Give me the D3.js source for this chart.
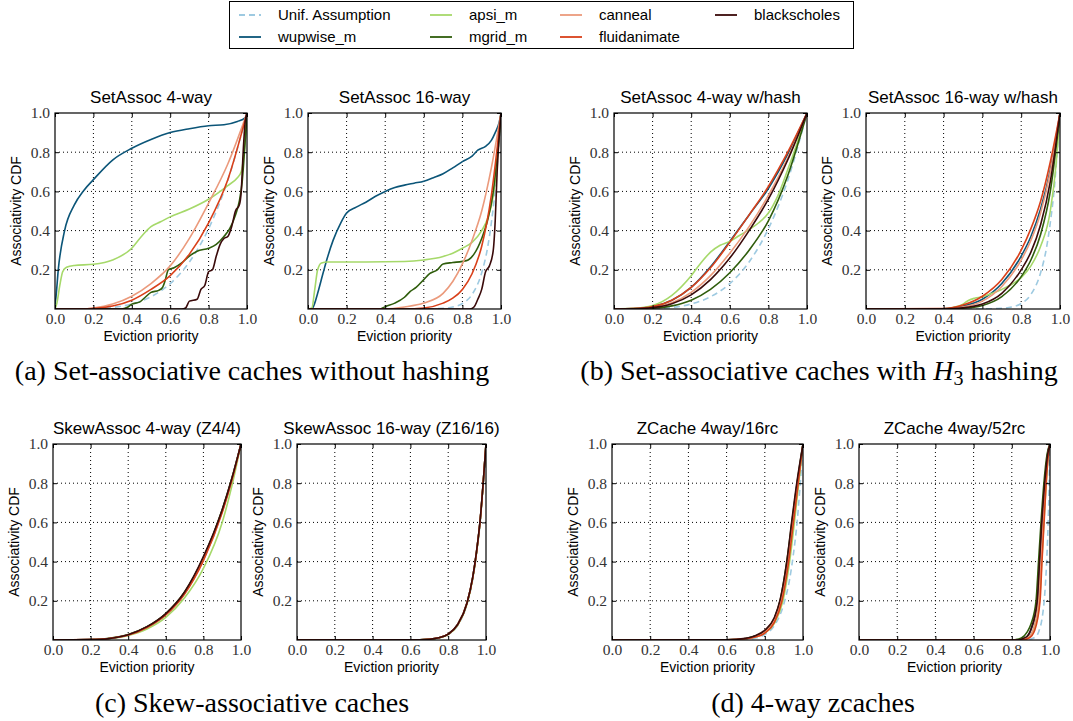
<!DOCTYPE html>
<html>
<head>
<meta charset="utf-8">
<script src="https://cdn.jsdelivr.net/npm/d3@7"></script>
<style>
  body { margin: 0; background: #fff; }
  svg { display: block; }
</style>
</head>
<body>
<div id="chart"></div>
<script>
// panel titles, in drawing order (a-left, a-right, b-left, b-right, c-left, ...)
const titles = ['SetAssoc 4-way', 'SetAssoc 16-way', 'SetAssoc 4-way w/hash', 'SetAssoc 16-way w/hash',
  'SkewAssoc 4-way (Z4/4)', 'SkewAssoc 16-way (Z16/16)', 'ZCache 4way/16rc', 'ZCache 4way/52rc'];
const seriesNames = ['Unif. Assumption', 'wupwise_m', 'apsi_m', 'mgrid_m', 'canneal', 'fluidanimate', 'blackscholes'];
const xTicks = [0, 0.2, 0.4, 0.6, 0.8, 1.0];
const yTicks = [0.2, 0.4, 0.6, 0.8, 1.0];

// [eviction priority, CDF] pairs, one list per panel
const unif = [
  [[0,0],[0.2,0.0016],[0.3,0.0081],[0.4,0.0256],[0.5,0.0625],[0.6,0.1296],[0.7,0.2401],[0.8,0.4096],[0.9,0.6561],[1,1]],
  [[0,0],[0.6,0.0003],[0.7,0.0033],[0.75,0.01],[0.8,0.028],[0.85,0.074],[0.9,0.185],[0.93,0.31],[0.95,0.44],[0.97,0.61],[0.985,0.79],[1,1]],
  [[0,0],[0.2,0.0016],[0.3,0.0081],[0.4,0.0256],[0.5,0.0625],[0.6,0.1296],[0.7,0.2401],[0.8,0.4096],[0.9,0.6561],[1,1]],
  [[0,0],[0.6,0.0003],[0.7,0.0033],[0.75,0.01],[0.8,0.028],[0.85,0.074],[0.9,0.185],[0.93,0.31],[0.95,0.44],[0.97,0.61],[0.985,0.79],[1,1]],
  [[0,0],[0.2,0.0016],[0.3,0.0081],[0.4,0.0256],[0.5,0.0625],[0.6,0.1296],[0.7,0.2401],[0.8,0.4096],[0.9,0.6561],[1,1]],
  [[0,0],[0.6,0.0003],[0.7,0.0033],[0.75,0.01],[0.8,0.028],[0.85,0.074],[0.9,0.185],[0.93,0.31],[0.95,0.44],[0.97,0.61],[0.985,0.79],[1,1]],
  [[0,0],[0.6,0.0003],[0.7,0.0033],[0.75,0.01],[0.8,0.028],[0.85,0.074],[0.9,0.185],[0.93,0.31],[0.95,0.44],[0.97,0.61],[0.985,0.79],[1,1]],
  [[0,0],[0.88,0.001],[0.92,0.013],[0.94,0.04],[0.96,0.12],[0.97,0.205],[0.98,0.35],[0.99,0.59],[0.995,0.77],[1,1]]
];
const wupwise = [
  [[0,0.02],[0.005,0.06],[0.017,0.2],[0.05,0.4],[0.1,0.53],[0.15,0.605],[0.2,0.66],[0.3,0.76],[0.4,0.82],[0.5,0.865],[0.6,0.9],[0.7,0.92],[0.8,0.935],[0.88,0.94],[0.95,0.957],[0.99,0.975],[1,1]],
  [[0,0],[0.02,0],[0.035,0.03],[0.05,0.08],[0.08,0.19],[0.1,0.26],[0.13,0.35],[0.17,0.44],[0.2,0.49],[0.25,0.52],[0.3,0.545],[0.35,0.575],[0.4,0.6],[0.45,0.62],[0.5,0.632],[0.55,0.642],[0.6,0.652],[0.65,0.67],[0.7,0.69],[0.75,0.72],[0.8,0.752],[0.85,0.78],[0.88,0.81],[0.92,0.83],[0.95,0.86],[0.97,0.9],[0.99,0.95],[1,1]],
  [[0,0],[0.1,0.002],[0.2,0.012],[0.3,0.045],[0.4,0.11],[0.5,0.215],[0.6,0.345],[0.7,0.48],[0.8,0.615],[0.9,0.79],[1,1]],
  [[0,0],[0.4,0.001],[0.5,0.015],[0.6,0.05],[0.7,0.13],[0.8,0.27],[0.85,0.37],[0.9,0.51],[0.95,0.71],[1,1]],
  [[0,0],[0.2,0.002],[0.3,0.008],[0.4,0.026],[0.5,0.066],[0.6,0.132],[0.7,0.24],[0.8,0.415],[0.9,0.66],[0.95,0.815],[1,1]],
  [[0,0],[0.6,0.0005],[0.7,0.004],[0.75,0.011],[0.8,0.03],[0.85,0.078],[0.9,0.19],[0.93,0.32],[0.95,0.45],[0.97,0.62],[0.985,0.8],[1,1]],
  [[0,0],[0.6,0.001],[0.7,0.008],[0.75,0.02],[0.8,0.043],[0.85,0.105],[0.88,0.19],[0.917,0.39],[0.943,0.59],[0.97,0.79],[1,1]],
  [[0,0],[0.82,0],[0.87,0.01],[0.9,0.05],[0.935,0.2],[0.947,0.4],[0.959,0.6],[0.973,0.8],[0.988,0.95],[1,1]]
];
const apsi = [
  [[0,0],[0.01,0.03],[0.025,0.12],[0.04,0.19],[0.06,0.213],[0.1,0.222],[0.2,0.228],[0.3,0.25],[0.4,0.31],[0.45,0.37],[0.5,0.42],[0.55,0.445],[0.6,0.47],[0.7,0.51],[0.8,0.56],[0.9,0.63],[0.95,0.67],[0.97,0.7],[0.985,0.8],[1,1]],
  [[0,0],[0.02,0.005],[0.035,0.1],[0.05,0.2],[0.07,0.235],[0.1,0.24],[0.3,0.24],[0.5,0.242],[0.6,0.25],[0.7,0.268],[0.75,0.285],[0.8,0.31],[0.85,0.34],[0.9,0.4],[0.93,0.46],[0.96,0.58],[0.98,0.75],[1,1]],
  [[0,0],[0.1,0.003],[0.2,0.018],[0.3,0.07],[0.4,0.17],[0.45,0.235],[0.5,0.29],[0.55,0.325],[0.6,0.345],[0.65,0.375],[0.7,0.405],[0.75,0.44],[0.8,0.49],[0.85,0.58],[0.9,0.71],[0.95,0.85],[1,1]],
  [[0,0],[0.4,0.001],[0.45,0.008],[0.5,0.025],[0.53,0.045],[0.56,0.055],[0.6,0.062],[0.65,0.08],[0.7,0.1],[0.75,0.125],[0.8,0.16],[0.85,0.22],[0.9,0.32],[0.95,0.5],[0.98,0.74],[1,1]],
  [[0,0],[0.2,0.0015],[0.3,0.007],[0.4,0.023],[0.5,0.056],[0.6,0.115],[0.7,0.215],[0.8,0.365],[0.9,0.6],[0.95,0.78],[1,1]],
  [[0,0],[0.6,0.0004],[0.7,0.0035],[0.75,0.01],[0.8,0.028],[0.85,0.075],[0.9,0.185],[0.93,0.315],[0.95,0.445],[0.97,0.615],[0.985,0.795],[1,1]],
  [[0,0],[0.6,0.001],[0.7,0.006],[0.75,0.015],[0.8,0.035],[0.85,0.085],[0.895,0.2],[0.93,0.4],[0.955,0.6],[0.978,0.8],[1,1]],
  [[0,0],[0.84,0],[0.88,0.01],[0.915,0.05],[0.945,0.2],[0.957,0.4],[0.968,0.6],[0.98,0.8],[0.992,0.95],[1,1]]
];
const mgrid = [
  [[0,0],[0.33,0],[0.36,0.003],[0.38,0.01],[0.4,0.025],[0.44,0.035],[0.47,0.06],[0.5,0.085],[0.54,0.095],[0.56,0.11],[0.575,0.15],[0.59,0.2],[0.62,0.21],[0.66,0.235],[0.7,0.27],[0.74,0.295],[0.8,0.31],[0.84,0.33],[0.88,0.37],[0.91,0.41],[0.94,0.48],[0.96,0.55],[0.975,0.65],[0.99,0.85],[1,1]],
  [[0,0],[0.37,0],[0.4,0.012],[0.45,0.03],[0.5,0.06],[0.53,0.09],[0.56,0.11],[0.6,0.15],[0.63,0.18],[0.67,0.2],[0.7,0.23],[0.75,0.237],[0.8,0.243],[0.83,0.25],[0.86,0.28],[0.9,0.36],[0.93,0.45],[0.96,0.6],[0.98,0.78],[1,1]],
  [[0,0],[0.1,0.001],[0.2,0.004],[0.3,0.016],[0.4,0.045],[0.5,0.1],[0.6,0.185],[0.7,0.3],[0.8,0.45],[0.9,0.68],[1,1]],
  [[0,0],[0.4,0.001],[0.5,0.004],[0.6,0.018],[0.7,0.063],[0.8,0.165],[0.85,0.25],[0.9,0.38],[0.95,0.6],[1,1]],
  [[0,0],[0.2,0.002],[0.3,0.009],[0.4,0.028],[0.5,0.068],[0.6,0.135],[0.7,0.245],[0.8,0.42],[0.9,0.665],[0.95,0.82],[1,1]],
  [[0,0],[0.6,0.0005],[0.7,0.004],[0.75,0.011],[0.8,0.03],[0.85,0.078],[0.9,0.19],[0.93,0.32],[0.95,0.45],[0.97,0.62],[0.985,0.8],[1,1]],
  [[0,0],[0.6,0.001],[0.7,0.008],[0.75,0.02],[0.8,0.045],[0.85,0.11],[0.88,0.2],[0.915,0.4],[0.942,0.6],[0.969,0.8],[1,1]],
  [[0,0],[0.8,0],[0.85,0.01],[0.88,0.04],[0.9,0.08],[0.927,0.2],[0.94,0.4],[0.953,0.6],[0.968,0.8],[0.985,0.95],[1,1]]
];
const canneal = [
  [[0,0],[0.15,0],[0.2,0.005],[0.3,0.025],[0.4,0.065],[0.5,0.13],[0.6,0.22],[0.7,0.36],[0.8,0.54],[0.9,0.74],[1,1]],
  [[0,0],[0.4,0],[0.5,0.01],[0.6,0.03],[0.7,0.08],[0.75,0.14],[0.8,0.23],[0.85,0.35],[0.9,0.5],[0.95,0.72],[1,1]],
  [[0,0],[0.1,0.002],[0.2,0.008],[0.3,0.032],[0.4,0.085],[0.5,0.17],[0.6,0.285],[0.7,0.42],[0.8,0.58],[0.9,0.77],[1,1]],
  [[0,0],[0.4,0.001],[0.5,0.01],[0.6,0.04],[0.7,0.115],[0.8,0.25],[0.85,0.35],[0.9,0.49],[0.95,0.7],[1,1]],
  [[0,0],[0.2,0.0018],[0.3,0.008],[0.4,0.026],[0.5,0.065],[0.6,0.13],[0.7,0.238],[0.8,0.41],[0.9,0.655],[0.95,0.812],[1,1]],
  [[0,0],[0.6,0.0005],[0.7,0.004],[0.75,0.011],[0.8,0.03],[0.85,0.078],[0.9,0.19],[0.93,0.32],[0.95,0.45],[0.97,0.62],[0.985,0.8],[1,1]],
  [[0,0],[0.6,0.001],[0.7,0.007],[0.75,0.017],[0.8,0.04],[0.85,0.1],[0.885,0.2],[0.92,0.4],[0.947,0.6],[0.972,0.8],[1,1]],
  [[0,0],[0.83,0],[0.88,0.01],[0.91,0.05],[0.94,0.2],[0.952,0.4],[0.963,0.6],[0.976,0.8],[0.99,0.95],[1,1]]
];
const fluid = [
  [[0,0],[0.15,0],[0.2,0.003],[0.3,0.015],[0.4,0.045],[0.5,0.1],[0.6,0.17],[0.7,0.28],[0.8,0.44],[0.9,0.66],[1,1]],
  [[0,0],[0.5,0],[0.6,0.005],[0.7,0.03],[0.75,0.055],[0.8,0.1],[0.85,0.18],[0.9,0.32],[0.95,0.58],[1,1]],
  [[0,0],[0.1,0.002],[0.2,0.012],[0.3,0.045],[0.4,0.11],[0.5,0.21],[0.6,0.34],[0.7,0.48],[0.8,0.625],[0.9,0.8],[1,1]],
  [[0,0],[0.4,0.002],[0.5,0.02],[0.6,0.065],[0.7,0.15],[0.8,0.3],[0.85,0.41],[0.9,0.55],[0.95,0.75],[1,1]],
  [[0,0],[0.2,0.0018],[0.3,0.0078],[0.4,0.025],[0.5,0.064],[0.6,0.128],[0.7,0.235],[0.8,0.405],[0.9,0.65],[0.95,0.81],[1,1]],
  [[0,0],[0.6,0.0005],[0.7,0.004],[0.75,0.011],[0.8,0.03],[0.85,0.078],[0.9,0.19],[0.93,0.32],[0.95,0.45],[0.97,0.62],[0.985,0.8],[1,1]],
  [[0,0],[0.6,0.001],[0.7,0.006],[0.75,0.015],[0.8,0.035],[0.85,0.09],[0.89,0.2],[0.925,0.4],[0.95,0.6],[0.975,0.8],[1,1]],
  [[0,0],[0.85,0],[0.89,0.01],[0.92,0.05],[0.948,0.2],[0.958,0.4],[0.969,0.6],[0.98,0.8],[0.992,0.95],[1,1]]
];
const blackscholes = [
  [[0,0],[0.66,0],[0.68,0.005],[0.7,0.04],[0.74,0.05],[0.76,0.1],[0.78,0.12],[0.8,0.19],[0.82,0.2],[0.84,0.27],[0.86,0.33],[0.88,0.36],[0.9,0.37],[0.92,0.42],[0.94,0.5],[0.96,0.53],[0.97,0.6],[0.98,0.8],[0.99,0.95],[1,1]],
  [[0,0],[0.84,0],[0.86,0.01],[0.88,0.05],[0.9,0.1],[0.92,0.19],[0.94,0.22],[0.96,0.3],[0.97,0.45],[0.98,0.7],[1,1]],
  [[0,0],[0.1,0.001],[0.2,0.007],[0.3,0.027],[0.4,0.072],[0.5,0.15],[0.6,0.26],[0.7,0.4],[0.8,0.56],[0.9,0.76],[1,1]],
  [[0,0],[0.4,0.001],[0.5,0.006],[0.6,0.025],[0.7,0.08],[0.8,0.2],[0.85,0.29],[0.9,0.43],[0.95,0.65],[1,1]],
  [[0,0],[0.2,0.002],[0.3,0.008],[0.4,0.027],[0.5,0.068],[0.6,0.135],[0.7,0.245],[0.8,0.425],[0.9,0.665],[0.95,0.82],[1,1]],
  [[0,0],[0.6,0.0005],[0.7,0.004],[0.75,0.011],[0.8,0.03],[0.85,0.079],[0.9,0.19],[0.93,0.322],[0.95,0.452],[0.97,0.622],[0.985,0.8],[1,1]],
  [[0,0],[0.6,0.0015],[0.7,0.009],[0.75,0.022],[0.8,0.05],[0.85,0.115],[0.88,0.205],[0.916,0.405],[0.941,0.605],[0.968,0.805],[1,1]],
  [[0,0],[0.82,0],[0.87,0.012],[0.9,0.055],[0.933,0.2],[0.945,0.4],[0.957,0.6],[0.972,0.8],[0.988,0.95],[1,1]]
];
const seriesData = [unif, wupwise, apsi, mgrid, canneal, fluid, blackscholes];
const colors = ['#9ecae1', '#0b5578', '#a6d96a', '#2f5d0c', '#eb9a7c', '#d9401a', '#3a0a0a'];

// layout: plot frames [left, top, right, bottom]
const frames = [
  [55, 113, 247, 309], [308, 113, 501, 309], [614, 113, 807, 309], [866, 113, 1060, 309],
  [53, 444, 241, 640], [297, 444, 486, 640], [612, 444, 803, 640], [859, 444, 1050, 640]
];

const svg = d3.select('#chart').append('svg')
  .attr('width', 1073)
  .attr('height', 721);

const line = (x, y) => d3.line().x(d => x(d[0])).y(d => y(d[1])).curve(d3.curveMonotoneX);

frames.forEach((f, p) => {
  const [l, t, r, b] = f;
  const x = d3.scaleLinear().domain([0, 1]).range([l, r]);
  const y = d3.scaleLinear().domain([0, 1]).range([b, t]);

  svg.append('clipPath').attr('id', 'clip' + p)
    .append('rect').attr('x', l).attr('y', t).attr('width', r - l).attr('height', b - t);

  // dotted grid
  const grid = svg.append('g').attr('stroke', '#000').attr('stroke-width', 1).attr('stroke-dasharray', '1,3');
  grid.selectAll('.gx').data(xTicks.slice(1, -1)).enter().append('line')
    .attr('x1', d => x(d)).attr('x2', d => x(d)).attr('y1', t).attr('y2', b);
  grid.selectAll('.gy').data(yTicks.slice(0, -1)).enter().append('line')
    .attr('y1', d => y(d)).attr('y2', d => y(d)).attr('x1', l).attr('x2', r);

  // curves
  const g = svg.append('g').attr('clip-path', `url(#clip${p})`);
  seriesData.forEach((s, i) => {
    g.append('path')
      .attr('d', line(x, y)(s[p]))
      .attr('fill', 'none')
      .attr('stroke', colors[i])
      .attr('stroke-width', 1.6)
      .attr('stroke-dasharray', i === 0 ? '6,4' : null);
  });

  // axes with inward ticks
  const fmt = d3.format('.1f');
  svg.append('g').attr('transform', `translate(0,${b})`)
    .call(d3.axisBottom(x).tickValues(xTicks).tickSize(-4).tickPadding(4).tickFormat(fmt))
    .call(a => a.select('.domain').remove());
  svg.append('g').attr('transform', `translate(0,${t})`)
    .call(d3.axisTop(x).tickValues(xTicks).tickSize(-4).tickFormat(''))
    .call(a => a.select('.domain').remove());
  svg.append('g').attr('transform', `translate(${l},0)`)
    .call(d3.axisLeft(y).tickValues(yTicks).tickSize(-4).tickPadding(5).tickFormat(fmt))
    .call(a => a.select('.domain').remove());
  svg.append('g').attr('transform', `translate(${r},0)`)
    .call(d3.axisRight(y).tickValues(yTicks).tickSize(-4).tickFormat(''))
    .call(a => a.select('.domain').remove());

  svg.append('rect')
    .attr('x', l).attr('y', t).attr('width', r - l).attr('height', b - t)
    .attr('fill', 'none').attr('stroke', '#000').attr('stroke-width', 1.2);

  svg.append('text')
    .attr('x', (l + r) / 2).attr('y', t - 10)
    .attr('text-anchor', 'middle')
    .style('font', '17px "Liberation Sans", Arial, sans-serif')
    .text(titles[p]);

  svg.append('text')
    .attr('x', (l + r) / 2).attr('y', b + 32)
    .attr('text-anchor', 'middle')
    .style('font', '14px "Liberation Sans", Arial, sans-serif')
    .text('Eviction priority');

  svg.append('text')
    .attr('transform', `translate(${l - 34},${(t + b) / 2}) rotate(-90)`)
    .attr('text-anchor', 'middle')
    .style('font', '14px "Liberation Sans", Arial, sans-serif')
    .text('Associativity CDF');
});

svg.selectAll('.tick text')
  .style('font-family', '"Liberation Serif", "Times New Roman", serif')
  .style('font-size', '15.5px')
  .attr('fill', '#333');
svg.selectAll('.tick line').attr('stroke', '#000');

// legend
const legend = svg.append('g');
legend.append('rect')
  .attr('x', 229.5).attr('y', 1.5).attr('width', 624).attr('height', 47)
  .attr('fill', '#fff').attr('stroke', '#000').attr('stroke-width', 1);
const legCols = [239, 430, 560, 715];
seriesNames.forEach((name, i) => {
  const cx = legCols[Math.floor(i / 2)];
  const cy = i % 2 === 0 ? 15 : 37;
  legend.append('line')
    .attr('x1', cx).attr('x2', cx + 22).attr('y1', cy).attr('y2', cy)
    .attr('stroke', colors[i]).attr('stroke-width', 1.8)
    .attr('stroke-dasharray', i === 0 ? '6,4' : null);
  legend.append('text')
    .attr('x', cx + 39).attr('y', cy + 5)
    .style('font', '15px "Liberation Sans", Arial, sans-serif')
    .text(name);
});

// sub-figure captions
const capFont = '28px "Liberation Serif", "Times New Roman", serif';
svg.append('text').attr('x', 252).attr('y', 380).attr('text-anchor', 'middle')
  .style('font', capFont).text('(a) Set-associative caches without hashing');
const capB = svg.append('text').attr('x', 819).attr('y', 380).attr('text-anchor', 'middle')
  .style('font', capFont);
capB.append('tspan').text('(b) Set-associative caches with ');
capB.append('tspan').style('font-style', 'italic').text('H');
capB.append('tspan').attr('dy', 5).style('font-size', '20px').text('3');
capB.append('tspan').attr('dy', -5).text(' hashing');
svg.append('text').attr('x', 252).attr('y', 712).attr('text-anchor', 'middle')
  .style('font', capFont).text('(c) Skew-associative caches');
svg.append('text').attr('x', 813).attr('y', 712).attr('text-anchor', 'middle')
  .style('font', capFont).text('(d) 4-way zcaches');
</script>
</body>
</html>
